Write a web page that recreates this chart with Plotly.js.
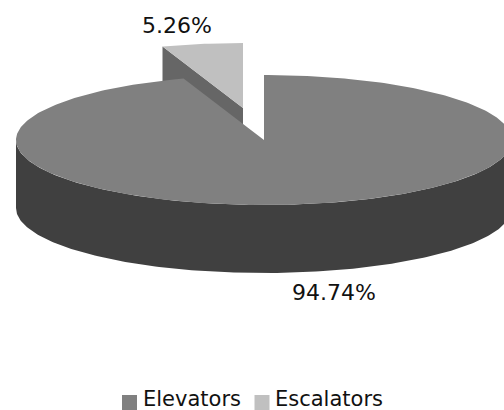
<!DOCTYPE html>
<html>
<head>
<meta charset="utf-8">
<script src="https://cdn.plot.ly/plotly-3.0.1.min.js"></script>
<style>html,body{margin:0;padding:0;background:#fff}#chart{width:504px;height:410px}</style>
</head>
<body>
<div id="chart"></div>
<script>
const categories = ["Elevators", "Escalators"];
const shares = [94.74, 5.26];
const topColors = ["#808080", "#c0c0c0"];
const sideColor = "#404040";
const cutColor = "#666666";

// Perspective disc: the axes run in screen units, so the ellipse radii set the look.
const center = [264, 140];
const rx = 248, ry = 65, depth = 68;
const explode = [-21, -32];

const rim = (c, deg) => {
  const a = deg * Math.PI / 180;
  return [c[0] + rx * Math.sin(a), c[1] - ry * Math.cos(a)];
};
const arc = (c, from, to) => {
  const pts = [];
  const n = Math.max(2, Math.ceil(Math.abs(to - from)));
  for (let i = 0; i <= n; i++) pts.push(rim(c, from + (to - from) * i / n));
  return pts;
};
const poly = (pts, color) => ({
  type: "scatter", mode: "lines", fill: "toself", fillcolor: color,
  line: {width: 0, color: color}, hoverinfo: "skip", showlegend: false,
  x: pts.map(p => p[0]), y: pts.map(p => p[1])
});

const total = shares[0] + shares[1];
const split = 360 * shares[0] / total;
const pulled = [center[0] + explode[0], center[1] + explode[1]];
const edge = rim(pulled, split);
const drop = p => [p[0], p[1] + depth];

const traces = [
  // pulled-out wedge: cut face first, then its top
  poly([edge, pulled, drop(pulled), drop(edge), edge], cutColor),
  poly([pulled, ...arc(pulled, split, 360), pulled], topColors[1]),
  // main slice: front wall, then top
  poly([...arc(center, 90, 270), ...arc(center, 270, 90).map(drop)], sideColor),
  poly([center, ...arc(center, 0, split), center], topColors[0]),
  // legend swatches
  {
    type: "scatter", mode: "markers", hoverinfo: "skip", showlegend: false,
    x: [129.5, 262], y: [402.5, 402.5],
    marker: {symbol: "square", size: 15, color: topColors, line: {width: 0}}
  }
];

const note = (x, y, text, xanchor, size) => ({
  x, y, text, xanchor, yanchor: "middle", showarrow: false,
  font: {family: "DejaVu Sans, Verdana, sans-serif", size, color: "#111"},
  xref: "x", yref: "y", borderpad: 0
});

const layout = {
  width: 504, height: 410,
  margin: {l: 0, r: 0, t: 0, b: 0},
  paper_bgcolor: "#fff", plot_bgcolor: "#fff",
  showlegend: false,
  xaxis: {range: [0, 504], visible: false, fixedrange: true},
  yaxis: {range: [410, 0], visible: false, fixedrange: true},
  annotations: [
    note(334, 292, shares[0].toFixed(2) + "%", "center", 22),
    note(177, 25.5, shares[1].toFixed(2) + "%", "center", 22),
    note(142, 399, categories[0], "left", 21),
    note(274, 399, categories[1], "left", 21)
  ]
};

Plotly.newPlot("chart", traces, layout, {displayModeBar: false, staticPlot: true});
</script>
</body>
</html>
